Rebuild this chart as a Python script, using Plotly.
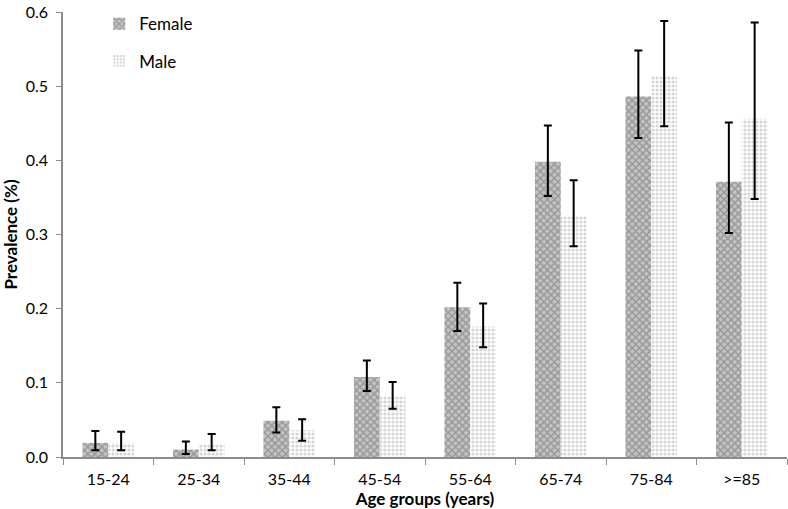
import plotly.graph_objects as go

categories = ["15-24", "25-34", "35-44", "45-54", "55-64", "65-74", "75-84", ">=85"]

female = [0.019, 0.010, 0.049, 0.108, 0.202, 0.398, 0.486, 0.371]
female_upper = [0.035, 0.021, 0.067, 0.130, 0.235, 0.447, 0.548, 0.451]
female_lower = [0.009, 0.004, 0.033, 0.089, 0.170, 0.352, 0.430, 0.302]

male = [0.019, 0.017, 0.036, 0.082, 0.176, 0.325, 0.514, 0.456]
male_upper = [0.034, 0.031, 0.051, 0.101, 0.207, 0.373, 0.588, 0.586]
male_lower = [0.009, 0.009, 0.022, 0.065, 0.148, 0.284, 0.446, 0.348]

y_ticks = [0.0, 0.1, 0.2, 0.3, 0.4, 0.5, 0.6]
y_tick_text = ["0.0", "0.1", "0.2", "0.3", "0.4", "0.5", "0.6"]

FONT = "Lato, Carlito, 'Open Sans', sans-serif"


def err(vals, up, lo):
    return dict(
        type="data",
        symmetric=False,
        array=[u - v for u, v in zip(up, vals)],
        arrayminus=[v - l for v, l in zip(vals, lo)],
        color="black",
        thickness=2,
        width=4,
    )


fig = go.Figure()
fig.add_trace(go.Bar(
    name="Female", x=categories, y=female,
    error_y=err(female, female_upper, female_lower),
    marker=dict(color="#aaaaaa", line=dict(width=0),
                pattern=dict(shape="x", fgcolor="#6e6e6e", bgcolor="#c4c4c4",
                             size=5, solidity=0.5)),
    legendgroup="f",
))
fig.add_trace(go.Bar(
    name="Male", x=categories, y=male,
    error_y=err(male, male_upper, male_lower),
    marker=dict(color="white", line=dict(width=0),
                pattern=dict(shape=".", fgcolor="#ababab", bgcolor="white",
                             size=4, solidity=0.5)),
    legendgroup="m",
))

fig.update_layout(
    width=788, height=509,
    margin=dict(l=63, r=1, t=12, b=52),
    plot_bgcolor="white", paper_bgcolor="white",
    barmode="group", bargap=0.43, bargroupgap=0,
    font=dict(family=FONT, size=16, color="black"),
    showlegend=True,
    legend=dict(x=0.05, y=1.013, xanchor="left", yanchor="top",
                bgcolor="rgba(0,0,0,0)", font=dict(size=17),
                tracegroupgap=12, itemwidth=30),
    xaxis=dict(
        type="category", automargin=False,
        showline=True, linecolor="#8c8c8c", linewidth=1.5,
        ticks="outside", tickson="boundaries", ticklen=6, tickcolor="#8c8c8c",
        tickfont=dict(size=16), ticklabelstandoff=7,
        title=dict(text="<b>Age groups (years)</b>", font=dict(size=17), standoff=0),
        showgrid=False,
    ),
    yaxis=dict(
        range=[0, 0.6], tickmode="array", tickvals=y_ticks, ticktext=y_tick_text,
        automargin=False, ticklabeloverflow="allow",
        showline=True, linecolor="#8c8c8c", linewidth=1.5,
        ticks="outside", ticklen=5, tickcolor="#8c8c8c",
        tickfont=dict(size=16), ticklabelstandoff=5,
        title=dict(text="<b>Prevalence (%)</b>", font=dict(size=17), standoff=6),
        showgrid=False, zeroline=False,
    ),
)

fig.write_html("out.html", config={"displayModeBar": False},
               post_script="document.body.style.margin='0';")
